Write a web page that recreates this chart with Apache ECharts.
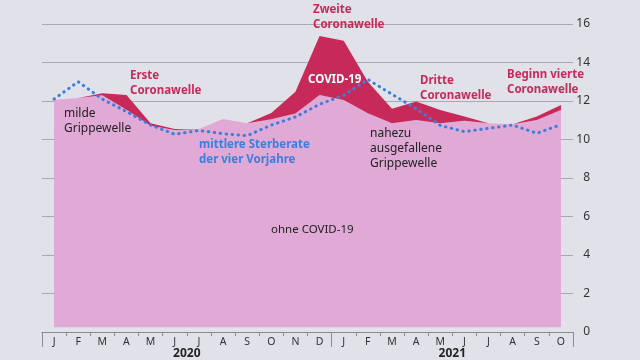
<!DOCTYPE html>
<html>
<head>
<meta charset="utf-8">
<script src="https://cdn.jsdelivr.net/npm/echarts@6/dist/echarts.min.js"></script>
<style>
html,body{margin:0;padding:0;background:#e1e1ea;}
#c{width:640px;height:360px;}
</style>
</head>
<body>
<div id="c"></div>
<script>
const months = ['J','F','M','A','M','J','J','A','S','O','N','D','J','F','M','A','M','J','J','A','S','O'];
const yearLabels = {6: '2020', 17: '2021'};
const yearBounds = [0, 12, 22];
// deaths excluding COVID-19 (pink base)
const ohneCovid = [12.05, 12.15, 12.3, 11.55, 10.72, 10.5, 10.55, 11.06, 10.84, 11.05, 11.35, 12.31,
                   12.05, 11.36, 10.84, 11.01, 10.84, 10.98, 10.84, 10.79, 11.01, 11.53];
// COVID-19 deaths (stacked on top)
const covid = [0, 0, 0.1, 0.76, 0.12, 0.05, 0, 0, 0, 0.33, 1.13, 3.07,
               3.08, 1.64, 0.76, 0.96, 0.69, 0.21, 0, 0, 0.18, 0.26];
// average death rate of the four previous years
const vorjahre = [12.1, 13.0, 12.1, 11.45, 10.75, 10.27, 10.47, 10.3, 10.2, 10.75, 11.17, 11.83,
                  12.3, 13.12, 12.35, 11.6, 10.73, 10.41, 10.58, 10.75, 10.32, 10.77];

const FONT = '"Noto Sans", sans-serif';
const RED = '#c72a59';
const BLUE = '#3b7fdc';
const DARK = '#222';

function txt(x, y, text, fill, weight, size) {
  return {
    type: 'text', x: x, y: y, z: 100,
    style: {
      text: text, fill: fill,
      font: (weight || 'normal') + ' ' + (size || 12) + 'px ' + FONT,
      lineHeight: 15, textVerticalAlign: 'top'
    }
  };
}

const chart = echarts.init(document.getElementById('c'), null, {renderer: 'canvas'});
chart.setOption({
  backgroundColor: '#e1e1ea',
  animation: false,
  grid: {left: 42, right: 67, top: 24, bottom: 28},
  xAxis: [{
    type: 'category',
    data: months,
    boundaryGap: true,
    axisLine: {show: true, lineStyle: {color: '#8a8a92', width: 1}},
    axisTick: {show: true, interval: 0, length: 4, lineStyle: {color: '#8a8a92'}},
    axisLabel: {interval: 0, margin: 5, color: '#333', fontSize: 10.5, fontFamily: FONT},
    splitLine: {show: false}
  }, {
    type: 'value',
    min: 0, max: 22,
    position: 'bottom',
    axisLine: {show: false},
    axisTick: {show: true, customValues: yearBounds, length: 15, lineStyle: {color: '#8a8a92'}},
    axisLabel: {
      customValues: [6, 17], margin: 16, color: '#222', fontSize: 12, fontWeight: 'bold', fontFamily: FONT,
      formatter: function (v) { return yearLabels[v] || ''; }
    },
    splitLine: {show: false}
  }],
  yAxis: {
    type: 'value',
    position: 'right',
    min: 0, max: 16, interval: 2,
    axisLine: {show: false},
    axisTick: {show: false},
    axisLabel: {align: 'right', margin: 17, color: '#333', fontSize: 12, fontFamily: FONT},
    splitLine: {show: true, lineStyle: {color: '#a8a8b0', width: 1}}
  },
  series: [{
    name: 'ohne COVID-19',
    type: 'line',
    stack: 'total',
    data: ohneCovid,
    symbol: 'none',
    lineStyle: {width: 0},
    areaStyle: {color: '#e0a9d6', opacity: 1, origin: 0.25},
    z: 2
  }, {
    name: 'COVID-19',
    type: 'line',
    stack: 'total',
    data: covid,
    symbol: 'none',
    lineStyle: {width: 0},
    areaStyle: {color: RED, opacity: 1},
    z: 2
  }, {
    name: 'Vorjahre',
    type: 'line',
    data: vorjahre,
    symbol: 'none',
    lineStyle: {color: BLUE, width: 3, type: [0.5, 5.5], cap: 'round'},
    z: 5
  }],
  graphic: [
    txt(313, 2.5, 'Zweite\nCoronawelle', RED, 'bold', 11.5),
    txt(130, 68, 'Erste\nCoronawelle', RED, 'bold', 11.5),
    txt(420, 73, 'Dritte\nCoronawelle', RED, 'bold', 11.5),
    txt(507, 67.5, 'Beginn vierte\nCoronawelle', RED, 'bold', 11.5),
    txt(308, 72, 'COVID-19', '#ffffff', 'bold', 11.5),
    txt(64, 106, 'milde\nGrippewelle', DARK, 'normal', 12),
    txt(199, 137, 'mittlere Sterberate\nder vier Vorjahre', BLUE, 'bold', 11.5),
    txt(370, 126, 'nahezu\nausgefallene\nGrippewelle', DARK, 'normal', 12),
    txt(271, 222.5, 'ohne COVID-19', DARK, 'normal', 11.5)
  ]
});
</script>
</body>
</html>
